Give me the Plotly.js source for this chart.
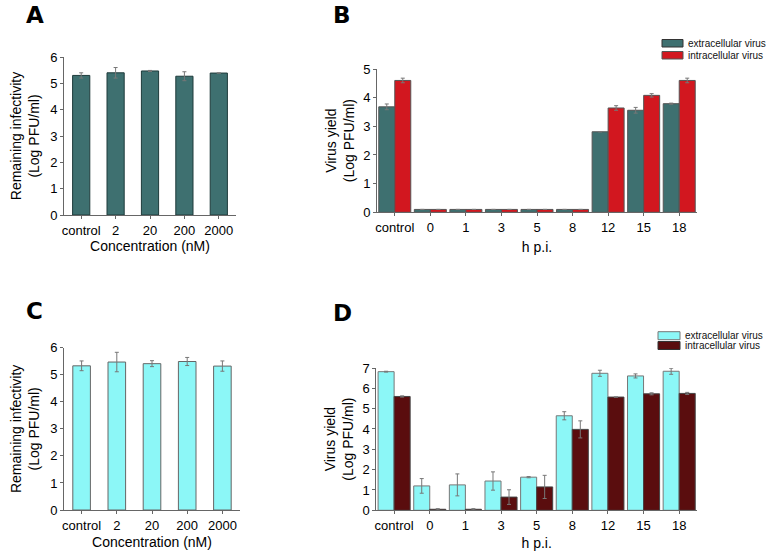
<!DOCTYPE html>
<html><head><meta charset="utf-8">
<script src="https://cdn.plot.ly/plotly-3.0.1.min.js"></script>
<style>html,body{margin:0;padding:0;background:#fff}#chart{width:768px;height:554px}</style>
</head><body><div id="chart"></div>
<script>
// Panel A & C: remaining infectivity vs concentration
const concentrations = ['control', '2', '20', '200', '2000'];
const infectivityA = [5.30, 5.40, 5.47, 5.27, 5.39];
const infectivityAErr = [0.10, 0.20, 0.02, 0.17, 0.00];
const infectivityC = [5.33, 5.47, 5.41, 5.49, 5.32];
const infectivityCErr = [0.18, 0.36, 0.11, 0.15, 0.19];

// Panel B & D: virus yield vs h p.i.
const hpi = ['control', '0', '1', '3', '5', '8', '12', '15', '18'];
const extraB = [3.68, 0.10, 0.10, 0.10, 0.10, 0.10, 2.81, 3.56, 3.79];
const extraBErr = [0.10, 0, 0, 0, 0, 0, 0, 0.10, 0.02];
const intraB = [4.60, 0.10, 0.10, 0.10, 0.10, 0.10, 3.64, 4.08, 4.60];
const intraBErr = [0.08, 0, 0, 0, 0, 0, 0.08, 0.06, 0.08];
const extraD = [6.82, 1.20, 1.25, 1.44, 1.63, 4.65, 6.74, 6.61, 6.84];
const extraDErr = [0.02, 0.36, 0.54, 0.45, 0.03, 0.20, 0.15, 0.10, 0.15];
const intraD = [5.60, 0.05, 0.05, 0.65, 1.15, 3.98, 5.57, 5.73, 5.75];
const intraDErr = [0.03, 0.03, 0.03, 0.36, 0.57, 0.42, 0, 0.05, 0.05];

const seriesNames = ['extracellular virus', 'intracellular virus'];
const panelLetters = ['A', 'B', 'C', 'D'];

const teal = '#3e7070', red = '#d2171f', cyan = '#8cf7f7', maroon = '#5a0d0e';
const errStyle = {type: 'data', visible: true, color: '#777', thickness: 1, width: 2};
function err(a){ return Object.assign({array: a}, errStyle); }

const W = 768, H = 554;
const px = v => v / W, py = v => 1 - v / H;

const traces = [
  {type:'bar', x:concentrations, y:infectivityA, error_y:err(infectivityAErr), xaxis:'x', yaxis:'y',
   marker:{color:teal, line:{color:'#1e3b3b', width:1}}, width:0.5, showlegend:false},
  {type:'bar', name:seriesNames[0], x:hpi, y:extraB, error_y:err(extraBErr), xaxis:'x2', yaxis:'y2',
   marker:{color:teal, line:{color:'#555', width:1}}, showlegend:false},
  {type:'bar', name:seriesNames[1], x:hpi, y:intraB, error_y:err(intraBErr), xaxis:'x2', yaxis:'y2',
   marker:{color:red, line:{color:'#555', width:1}}, showlegend:false},
  {type:'bar', x:concentrations, y:infectivityC, error_y:err(infectivityCErr), xaxis:'x3', yaxis:'y3',
   marker:{color:cyan, line:{color:'#666', width:1}}, width:0.5, showlegend:false},
  {type:'bar', name:seriesNames[0], x:hpi, y:extraD, error_y:err(extraDErr), xaxis:'x4', yaxis:'y4',
   marker:{color:cyan, line:{color:'#777', width:1}}, showlegend:false},
  {type:'bar', name:seriesNames[1], x:hpi, y:intraD, error_y:err(intraDErr), xaxis:'x4', yaxis:'y4',
   marker:{color:maroon, line:{color:'#444', width:1}}, showlegend:false}
];

const FF = 'Liberation Sans, Arial, sans-serif';
const tickFont = {family:FF, size:13, color:'#000'};
const titleFont = {family:FF, size:14, color:'#000'};
function xax(d0, d1, anchor, title, n, standoff){
  return {domain:[px(d0), px(d1)], anchor:anchor, type:'category', range:[-0.5, n-0.5],
    showline:true, linecolor:'#666', linewidth:1, ticks:'outside', ticklen:3, tickcolor:'#666',
    showgrid:false, zeroline:false, tickfont:tickFont, fixedrange:true,
    title:{text:title, font:titleFont, standoff:standoff}};
}
function yax(y0, y1, anchor, title, max, standoff){
  return {domain:[py(y0), py(y1)], anchor:anchor, range:[0, max], dtick:1,
    showline:true, linecolor:'#666', linewidth:1, ticks:'outside', ticklen:3, tickcolor:'#666',
    showgrid:false, zeroline:false, tickfont:tickFont, fixedrange:true,
    title:{text:title, font:titleFont, standoff:standoff}};
}

// manual legends (boxes + labels) positioned in paper space
function legendItems(x0, yTop, w, h, gap, colors, lines){
  const shapes = [], anns = [];
  colors.forEach((c, i) => {
    const y0 = yTop + i * (h + gap);
    shapes.push({type:'rect', xref:'paper', yref:'paper', x0:px(x0), x1:px(x0 + w), y0:py(y0), y1:py(y0 + h),
      fillcolor:c, line:{color:lines[i], width:1}});
    anns.push({text:seriesNames[i], xref:'paper', yref:'paper', x:px(x0 + w + 3), y:py(y0 + h / 2),
      xanchor:'left', yanchor:'middle', showarrow:false, font:{family:FF, size:10, color:'#111'}});
  });
  return {shapes, anns};
}
const legB = legendItems(662, 39.5, 21, 7.5, 4.5, [teal, red], ['#333', '#555']);
const legD = legendItems(658, 331.7, 22, 8, 1.8, [cyan, maroon], ['#777', '#333']);

const letterPos = [[35, 14.5], [342, 14.5], [34, 311], [342, 312.5]];
const letterAnns = panelLetters.map((t, i) => ({text:t, xref:'paper', yref:'paper',
  x:px(letterPos[i][0]), y:py(letterPos[i][1]), xanchor:'center', yanchor:'middle', showarrow:false,
  font:{family:'DejaVu Sans', size:23, weight:'bold', color:'#000'}}));

const layout = {
  width:W, height:H, margin:{l:0, r:0, t:0, b:0},
  paper_bgcolor:'#fff', plot_bgcolor:'rgba(0,0,0,0)',
  barmode:'group', bargap:0.1, bargroupgap:0, showlegend:false,
  font:{family:FF, color:'#000'},
  xaxis: xax(64, 236, 'y', 'Concentration (nM)', 5, 3),
  yaxis: yax(215, 57, 'x', 'Remaining infectivity<br>(Log PFU/ml)', 6, 7),
  xaxis2: xax(377, 697, 'y2', 'h p.i.', 9, 8),
  yaxis2: yax(212.3, 69, 'x2', 'Virus yield<br>(Log PFU/ml)', 5, 5),
  xaxis3: xax(64, 240, 'y3', 'Concentration (nM)', 5, 5),
  yaxis3: yax(510, 347.7, 'x3', 'Remaining infectivity<br>(Log PFU/ml)', 6, 7),
  xaxis4: xax(376.3, 697, 'y4', 'h p.i.', 9, 6),
  yaxis4: yax(510.3, 368, 'x4', 'Virus yield<br>(Log PFU/ml)', 7, 5),
  shapes: [...legB.shapes, ...legD.shapes],
  annotations: [...letterAnns, ...legB.anns, ...legD.anns]
};

Plotly.newPlot('chart', traces, layout, {staticPlot:true, displayModeBar:false});
</script></body></html>
